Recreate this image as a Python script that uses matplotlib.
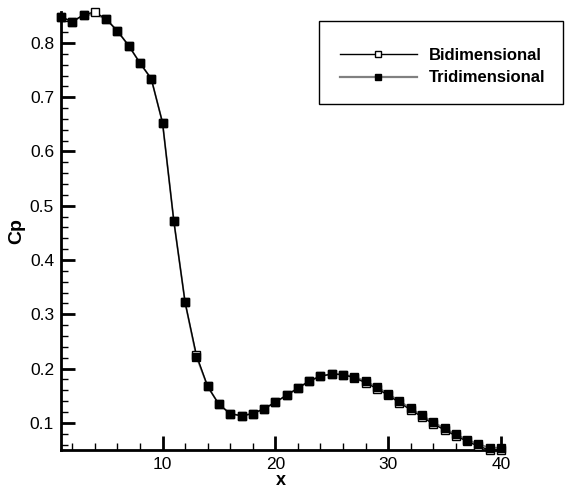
import matplotlib
matplotlib.use("Agg")
import matplotlib.pyplot as plt
from matplotlib.lines import Line2D
from matplotlib.patches import Rectangle
from matplotlib.ticker import MultipleLocator

plt.rcParams['font.family'] = ['Liberation Sans', 'DejaVu Sans']

x = list(range(1, 41))
tri = [0.848, 0.839, 0.851, 0.853, 0.844, 0.822, 0.795, 0.763, 0.734, 0.653,
       0.472, 0.322, 0.222, 0.167, 0.134, 0.117, 0.113, 0.117, 0.126, 0.138,
       0.151, 0.164, 0.177, 0.186, 0.190, 0.189, 0.185, 0.177, 0.166, 0.154,
       0.140, 0.127, 0.114, 0.101, 0.090, 0.079, 0.069, 0.061, 0.054, 0.054]
bi = [0.848, 0.839, 0.852, 0.857, 0.844, 0.822, 0.795, 0.763, 0.734, 0.653,
      0.472, 0.322, 0.225, 0.167, 0.134, 0.117, 0.113, 0.117, 0.126, 0.138,
      0.151, 0.164, 0.177, 0.186, 0.190, 0.189, 0.183, 0.174, 0.163, 0.151,
      0.137, 0.124, 0.111, 0.098, 0.087, 0.076, 0.066, 0.057, 0.050, 0.050]
labels = ["Bidimensional", "Tridimensional"]
xticks = [10, 20, 30, 40]
yticks = [0.1, 0.2, 0.3, 0.4, 0.5, 0.6, 0.7, 0.8]

fig = plt.figure(figsize=(5.65, 4.9), dpi=100)
ax = fig.add_axes([61/565, 1-450/490, (501-61)/565, (450-12)/490])

# Tridimensional line (gray)
ax.plot(x, tri, color='#808080', lw=1.3, zorder=2, clip_on=False)
# Bidimensional line + open markers
ax.plot(x, bi, color='black', lw=1.0, marker='s', ms=5.8, mfc='white',
        mec='black', mew=1.0, zorder=3, clip_on=False)
# Tridimensional filled markers (none drawn at x=4)
mk = [i for i in range(len(x)) if x[i] != 4]
ax.plot(x, tri, ls='none', marker='s', ms=6.0, mfc='black', mec='black',
        markevery=mk, zorder=4, clip_on=False)

ax.set_xlim(1, 40)
ax.set_ylim(min(min(bi), min(tri)), max(max(bi), max(tri)))
ax.set_xticks(xticks)
ax.set_yticks(yticks)
ax.set_yticklabels([f"{v:.1f}" for v in yticks])
ax.xaxis.set_minor_locator(MultipleLocator(2))
ax.yaxis.set_minor_locator(MultipleLocator(0.02))
ax.tick_params(which='major', direction='in', length=10, width=2, labelsize=12.5, pad=5)
ax.tick_params(which='minor', direction='in', length=5, width=1)
for s in ['top', 'right']:
    ax.spines[s].set_visible(False)
for s in ['left', 'bottom']:
    ax.spines[s].set_linewidth(2)

ax.set_xlabel("x", fontsize=13, fontweight='bold', labelpad=0)
ax.set_ylabel("Cp", fontsize=14, fontweight='bold', labelpad=3)

# legend box
fig.patches.append(Rectangle((319/565, 1-104/490), (563-319)/565, 83/490,
                             transform=fig.transFigure, fill=False,
                             lw=1.0, ec='black', zorder=5))
h1 = Line2D([], [], color='black', lw=1.0, marker='s', ms=5, mfc='white', mec='black')
h2 = Line2D([], [], color='#808080', lw=1.6, marker='s', ms=5, mfc='black', mec='black')
fig.legend([h1, h2], labels, loc='upper left',
           bbox_to_anchor=(340/565, 1-48/490), frameon=False,
           prop={'weight': 'bold', 'size': 12}, borderpad=0, borderaxespad=0,
           handlelength=4.6, handletextpad=0.75, labelspacing=0.45)

fig.savefig("out.png", dpi=100)
